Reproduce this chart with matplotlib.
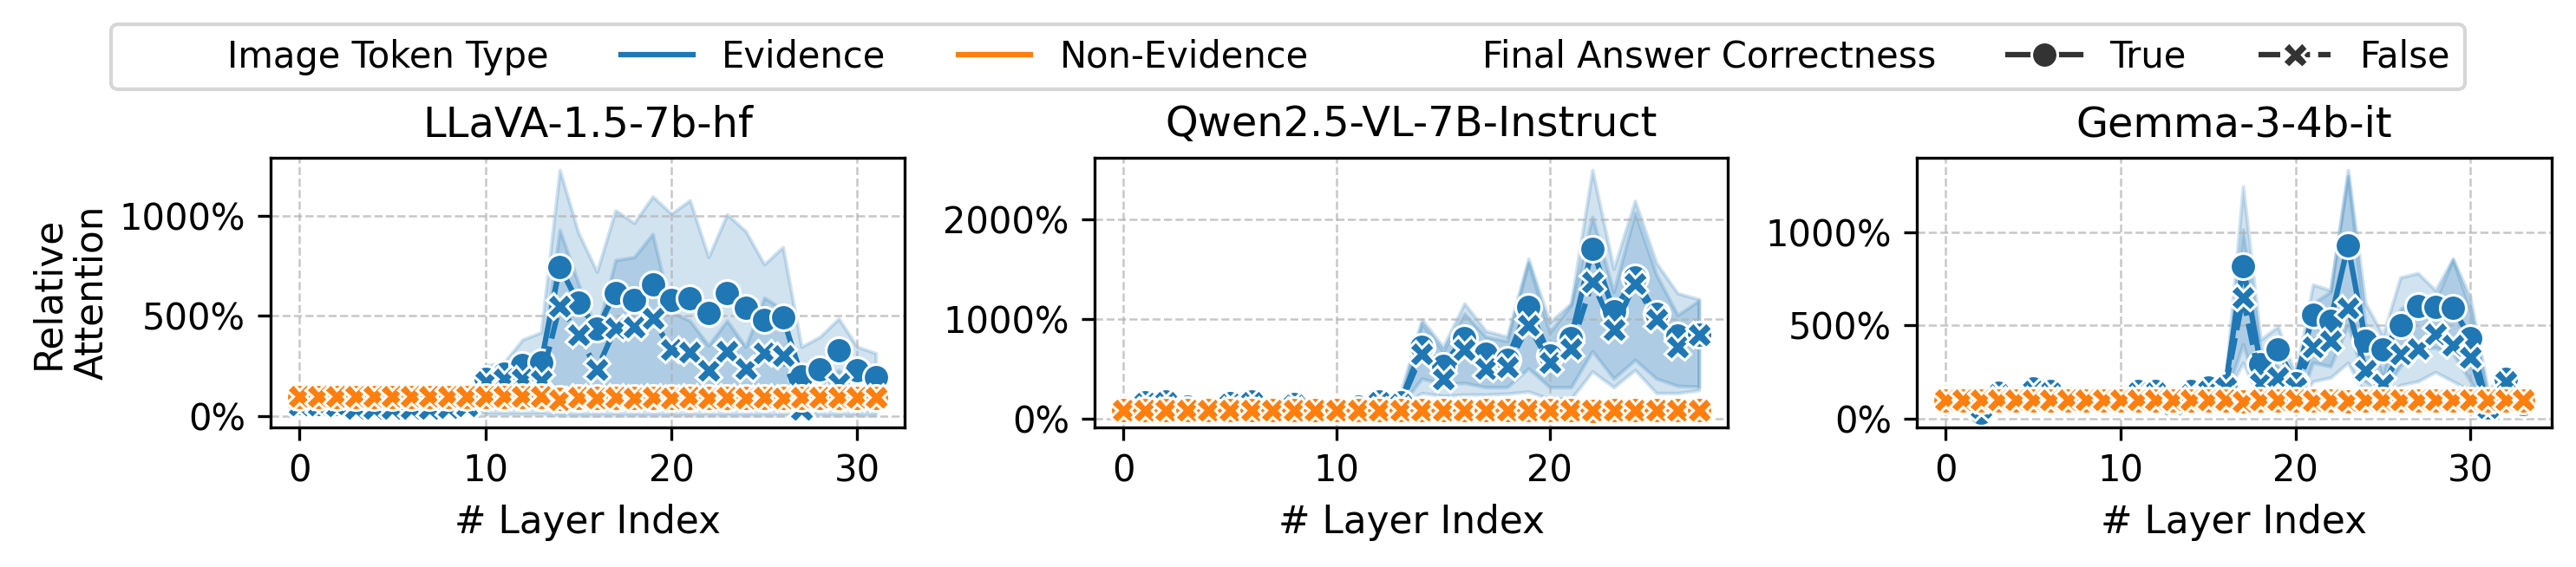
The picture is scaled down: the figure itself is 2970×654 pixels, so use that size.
import numpy as np
import matplotlib
matplotlib.use("Agg")
import matplotlib.pyplot as plt
from matplotlib.ticker import PercentFormatter, MultipleLocator
from matplotlib.lines import Line2D

# ---------------- data (values in %) ----------------
titles = ["LLaVA-1.5-7b-hf", "Qwen2.5-VL-7B-Instruct", "Gemma-3-4b-it"]
hue_labels = ["Evidence", "Non-Evidence"]
style_labels = ["True", "False"]

# LLaVA-1.5-7b-hf (32 layers)
llava_ev_true = [65, 60, 60, 55, 55, 55, 55, 55, 60, 65,
                 185, 213, 256, 267, 745, 565, 435, 615, 581, 656, 581, 586,
                 516, 612, 540, 480, 494, 199, 235, 327, 228, 195]
llava_ev_true_lo = [35, 30, 30, 30, 30, 30, 30, 30, 30, 35,
                    10, 10, 10, 10, 5, 5, 5, 5, 5, 5, 5, 5,
                    5, 5, 5, 5, 5, 5, 5, 5, 5, 5]
llava_ev_true_hi = [90, 85, 85, 75, 75, 75, 75, 75, 85, 90,
                    252, 267, 382, 418, 1227, 915, 720, 1026, 963, 1095, 1009, 1076,
                    793, 1006, 922, 757, 843, 346, 396, 486, 346, 314]
llava_ev_false = [55, 55, 50, 40, 40, 40, 40, 40, 45, 50,
                  173, 187, 187, 176, 550, 408, 233, 440, 444, 487, 331, 320,
                  228, 324, 238, 314, 303, 36, 90, 166, 90, 90]
llava_ev_false_lo = [30, 30, 25, 20, 20, 20, 20, 20, 25, 30,
                     120, 130, 130, 120, 100, 90, 60, 100, 110, 110, 80, 80,
                     60, 80, 60, 70, 70, 10, 30, 60, 30, 30]
llava_ev_false_hi = [80, 80, 75, 65, 65, 65, 65, 65, 70, 75,
                     220, 240, 250, 270, 929, 663, 420, 778, 793, 908, 519, 476,
                     353, 476, 346, 591, 533, 110, 150, 230, 150, 140]
llava_ne_true = [97, 96, 97, 96, 97, 96, 97, 96, 97, 96,
                 95, 95, 94, 94, 88, 92, 91, 92, 90, 92, 90, 92,
                 90, 92, 90, 92, 91, 92, 93, 92, 93, 93]
llava_ne_true_lo = [90, 89, 90, 89, 90, 89, 90, 89, 90, 89,
                    88, 88, 87, 87, 80, 85, 84, 85, 83, 85, 83, 85,
                    83, 85, 83, 85, 84, 85, 86, 85, 86, 86]
llava_ne_true_hi = [104, 103, 104, 103, 104, 103, 104, 103, 104, 103,
                    102, 102, 101, 101, 96, 99, 98, 99, 97, 99, 97, 99,
                    97, 99, 97, 99, 98, 99, 100, 99, 100, 100]
llava_ne_false = [101, 100, 101, 100, 101, 100, 101, 100, 101, 100,
                  99, 99, 98, 98, 84, 94, 92, 94, 91, 94, 91, 94,
                  90, 94, 91, 94, 92, 95, 96, 95, 96, 96]
llava_ne_false_lo = [95, 94, 95, 94, 95, 94, 95, 94, 95, 94,
                     93, 93, 92, 92, 78, 88, 86, 88, 85, 88, 85, 88,
                     84, 88, 85, 88, 86, 89, 90, 89, 90, 90]
llava_ne_false_hi = [107, 106, 107, 106, 107, 106, 107, 106, 107, 106,
                     105, 105, 104, 104, 90, 100, 98, 100, 97, 100, 97, 100,
                     96, 100, 97, 100, 98, 101, 102, 101, 102, 102]

# Qwen2.5-VL-7B-Instruct (28 layers)
qwen_ev_true = [115, 165, 180, 120, 110, 160, 175, 105, 150, 100,
                100, 120, 175, 165, 723, 535, 809, 650, 592, 1118,
                636, 809, 1705, 1078, 1416, 1049, 832, 844]
qwen_ev_true_lo = [90, 135, 150, 95, 85, 130, 145, 80, 120, 75,
                   75, 95, 145, 135, 260, 231, 245, 245, 254, 275,
                   202, 202, 477, 318, 491, 260, 260, 289]
qwen_ev_true_hi = [140, 195, 210, 145, 135, 190, 205, 130, 180, 125,
                   125, 145, 205, 260, 997, 723, 1156, 881, 824, 1604,
                   968, 1156, 2490, 1503, 2182, 1561, 1257, 1199]
qwen_ev_false = [105, 155, 170, 110, 100, 150, 170, 95, 140, 90,
                 90, 110, 170, 150, 650, 405, 694, 506, 520, 939,
                 564, 708, 1373, 896, 1358, 997, 723, 844]
qwen_ev_false_lo = [85, 135, 150, 90, 80, 130, 150, 75, 120, 70,
                    70, 90, 150, 125, 405, 347, 361, 318, 318, 506,
                    318, 318, 679, 405, 592, 405, 332, 324]
qwen_ev_false_hi = [125, 175, 190, 130, 120, 170, 190, 115, 160, 110,
                    110, 130, 190, 200, 954, 679, 1055, 824, 780, 1560,
                    867, 1142, 2023, 1272, 2066, 1445, 1040, 1185]
qwen_ne_true = [88, 87, 88, 87, 88, 87, 88, 87, 88, 87,
                88, 87, 88, 87, 86, 87, 86, 87, 86, 87,
                86, 87, 85, 87, 86, 87, 86, 87]
qwen_ne_true_lo = [80, 79, 80, 79, 80, 79, 80, 79, 80, 79,
                   80, 79, 80, 79, 78, 79, 78, 79, 78, 79,
                   78, 79, 77, 79, 78, 79, 78, 79]
qwen_ne_true_hi = [96, 95, 96, 95, 96, 95, 96, 95, 96, 95,
                   96, 95, 96, 95, 94, 95, 94, 95, 94, 95,
                   94, 95, 93, 95, 94, 95, 94, 95]
qwen_ne_false = [90, 89, 90, 89, 90, 89, 90, 89, 90, 89,
                 90, 89, 90, 89, 88, 89, 88, 89, 88, 89,
                 88, 89, 87, 89, 88, 89, 88, 89]
qwen_ne_false_lo = [84, 83, 84, 83, 84, 83, 84, 83, 84, 83,
                    84, 83, 84, 83, 82, 83, 82, 83, 82, 83,
                    82, 83, 81, 83, 82, 83, 82, 83]
qwen_ne_false_hi = [96, 95, 96, 95, 96, 95, 96, 95, 96, 95,
                    96, 95, 96, 95, 94, 95, 94, 95, 94, 95,
                    94, 95, 93, 95, 94, 95, 94, 95]

# Gemma-3-4b-it (34 layers)
gemma_ev_true = [100, 95, 30, 140, 110, 160, 150, 110, 100, 90,
                 90, 150, 150, 100, 150, 165, 175,
                 821, 292, 370, 191, 560, 525, 930, 420, 370, 502,
                 606, 599, 595, 432, 60, 215, 80]
gemma_ev_true_lo = [60, 55, 18, 90, 70, 110, 100, 70, 60, 50,
                    50, 100, 100, 60, 100, 115, 120,
                    400, 100, 120, 40, 300, 280, 500, 200, 150, 280,
                    380, 380, 350, 200, 20, 120, 30]
gemma_ev_true_hi = [140, 135, 70, 190, 150, 210, 200, 150, 140, 130,
                    130, 200, 200, 140, 200, 215, 199,
                    1248, 424, 494, 230, 720, 689, 1336, 619, 448, 759,
                    782, 689, 860, 650, 152, 246, 137]
gemma_ev_false = [95, 90, 60, 130, 100, 150, 140, 100, 95, 85,
                  85, 140, 140, 80, 130, 150, 165,
                  650, 191, 222, 168, 386, 420, 595, 261, 183, 347,
                  378, 456, 396, 331, 60, 199, 90]
gemma_ev_false_lo = [60, 55, 30, 90, 65, 110, 100, 65, 60, 50,
                     50, 100, 100, 50, 90, 110, 120,
                     300, 90, 100, 60, 200, 220, 300, 120, 80, 180,
                     200, 250, 200, 150, 25, 130, 50]
gemma_ev_false_hi = [130, 125, 90, 170, 135, 190, 180, 135, 130, 120,
                     120, 180, 180, 110, 170, 190, 190,
                     1015, 370, 277, 200, 619, 681, 1303, 494, 246, 588,
                     650, 634, 852, 588, 121, 215, 130]
gemma_ne_true = [97, 97, 96, 97, 96, 97, 96, 97, 96, 97,
                 96, 97, 96, 97, 96, 97, 96,
                 92, 96, 97, 98, 95, 97, 94, 97, 98, 97,
                 97, 97, 97, 97, 98, 98, 98]
gemma_ne_true_lo = [91, 91, 90, 91, 90, 91, 90, 91, 90, 91,
                    90, 91, 90, 91, 90, 91, 90,
                    85, 90, 91, 92, 89, 91, 88, 91, 92, 91,
                    91, 91, 91, 91, 92, 92, 92]
gemma_ne_true_hi = [103, 103, 102, 103, 102, 103, 102, 103, 102, 103,
                    102, 103, 102, 103, 102, 103, 102,
                    99, 102, 103, 104, 101, 103, 100, 103, 104, 103,
                    103, 103, 103, 103, 104, 104, 104]
gemma_ne_false = [100, 100, 99, 100, 99, 100, 99, 100, 99, 100,
                  99, 100, 99, 100, 99, 100, 99,
                  92, 99, 100, 101, 97, 100, 96, 100, 101, 100,
                  100, 100, 100, 100, 101, 101, 101]
gemma_ne_false_lo = [95, 95, 94, 95, 94, 95, 94, 95, 94, 95,
                     94, 95, 94, 95, 94, 95, 94,
                     86, 94, 95, 96, 92, 95, 91, 95, 96, 95,
                     95, 95, 95, 95, 96, 96, 96]
gemma_ne_false_hi = [105, 105, 104, 105, 104, 105, 104, 105, 104, 105,
                     104, 105, 104, 105, 104, 105, 104,
                     98, 104, 105, 106, 102, 105, 101, 105, 106, 105,
                     105, 105, 105, 105, 106, 106, 106]

# ---------------- styling ----------------
BLUE = "#1f77b4"
ORANGE = "#ff7f0e"
FS_TICK = 10
FS_LABEL = 10.5
FS_TITLE = 11.5
FS_LEGEND = 10
MS = 7.2

panels = [
    dict(title=titles[0],
         series=[(llava_ev_true, llava_ev_true_lo, llava_ev_true_hi),
                 (llava_ev_false, llava_ev_false_lo, llava_ev_false_hi),
                 (llava_ne_true, llava_ne_true_lo, llava_ne_true_hi),
                 (llava_ne_false, llava_ne_false_lo, llava_ne_false_hi)],
         pos=[312, 1043], ylim=(-56, 1288), ystep=500),
    dict(title=titles[1],
         series=[(qwen_ev_true, qwen_ev_true_lo, qwen_ev_true_hi),
                 (qwen_ev_false, qwen_ev_false_lo, qwen_ev_false_hi),
                 (qwen_ne_true, qwen_ne_true_lo, qwen_ne_true_hi),
                 (qwen_ne_false, qwen_ne_false_lo, qwen_ne_false_hi)],
         pos=[1262, 1992], ylim=(-84, 2613), ystep=1000),
    dict(title=titles[2],
         series=[(gemma_ev_true, gemma_ev_true_lo, gemma_ev_true_hi),
                 (gemma_ev_false, gemma_ev_false_lo, gemma_ev_false_hi),
                 (gemma_ne_true, gemma_ne_true_lo, gemma_ne_true_hi),
                 (gemma_ne_false, gemma_ne_false_lo, gemma_ne_false_hi)],
         pos=[2210, 2942], ylim=(-48, 1402), ystep=500),
]

styles = [(BLUE, "o", None), (BLUE, "X", (4, 1.5)),
          (ORANGE, "o", None), (ORANGE, "X", (4, 1.5))]

W, H = 2970, 654
fig = plt.figure(figsize=(W / 300, H / 300), dpi=300)
ax_top, ax_bot = 182, 493

for i, p in enumerate(panels):
    l, r = p["pos"]
    ax = fig.add_axes([l / W, 1 - ax_bot / H, (r - l) / W, (ax_bot - ax_top) / H])
    for (y, lo, hi), (c, m, d) in zip(p["series"], styles):
        x = np.arange(len(y))
        kw = dict(color=c, marker=m, ms=MS, mec="w", mew=0.75, lw=1.5)
        if d is not None:
            kw["dashes"] = d
        ax.plot(x, y, **kw)
        ax.fill_between(x, lo, hi, color=c, alpha=0.2, lw=1)
    n = len(p["series"][0][0])
    ax.set_xlim(-0.05 * (n - 1), (n - 1) * 1.05)
    ax.set_ylim(*p["ylim"])
    ax.xaxis.set_major_locator(MultipleLocator(10))
    ax.yaxis.set_major_locator(MultipleLocator(p["ystep"]))
    ax.yaxis.set_major_formatter(PercentFormatter(xmax=100, decimals=0))
    ax.grid(True, linestyle="--", color="#b0b0b0", alpha=0.7, lw=0.6)
    ax.tick_params(labelsize=FS_TICK)
    ax.set_title(p["title"], fontsize=FS_TITLE)
    ax.set_xlabel("# Layer Index", fontsize=FS_LABEL)
    if i == 0:
        ax.set_ylabel("Relative\nAttention", fontsize=FS_LABEL, labelpad=2.5)

handles = [
    Line2D([], [], linestyle="", marker=""),
    Line2D([], [], color=BLUE, lw=1.5),
    Line2D([], [], color=ORANGE, lw=1.5),
    Line2D([], [], linestyle="", marker=""),
    Line2D([], [], color=".2", lw=1.5, marker="o", ms=MS, mec="w", mew=0.75),
    Line2D([], [], color=".2", lw=1.5, marker="X", ms=MS, mec="w", mew=0.75, dashes=(4, 1.5)),
]
labels = ["Image Token Type"] + hue_labels + ["Final Answer Correctness"] + style_labels
fig.legend(handles, labels, ncol=6, loc="upper center",
           bbox_to_anchor=(0.5, 1 - 28 / H), borderaxespad=0,
           fontsize=FS_LEGEND, frameon=True)

fig.savefig("out.png", dpi=300)
